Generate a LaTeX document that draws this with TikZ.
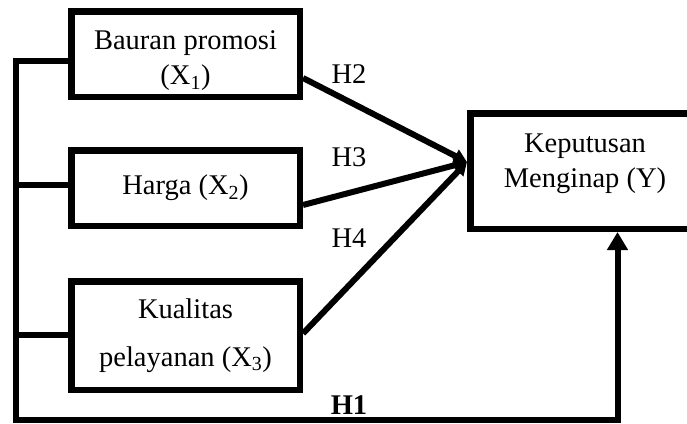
\documentclass[tikz,border=0pt]{standalone}
\usepackage{fontspec}
\setmainfont{Liberation Serif}
\usetikzlibrary{arrows.meta,positioning}

\begin{document}
\begin{tikzpicture}[x=1pt,y=-1pt]
	\tikzset{>={Triangle[length=13pt,width=14pt]},
		var/.style={draw,line width=6.5pt,align=center,inner sep=0pt,font=\fontsize{28.5}{35}\selectfont},
		link/.style={line width=6pt},
		hyp/.style={font=\fontsize{28.5}{32}\selectfont}}
	\useasboundingbox (0,0) rectangle (687,423);

	\node[var,minimum width=228.5pt,minimum height=85.5pt] (X1) at (185.5,54) {\rule{0pt}{32pt}Bauran promosi\\(X\textsubscript{1})};
	\node[var,minimum width=228.5pt,minimum height=75.5pt] (X2) at (185.5,188) {Harga (X\textsubscript{2})};
	\node[var,minimum width=228.5pt,minimum height=108.5pt,font=\fontsize{28.5}{48}\selectfont] (X3) at (185.5,335.5) {Kualitas\\pelayanan (X\textsubscript{3})};
	\node[var,minimum width=229.5pt,minimum height=115.5pt] (Y) at (585,171) {Keputusan\\Menginap (Y)\\[-15pt]\mbox{}};

	% left bus to the decision box
	\coordinate (top) at (15.5,60.5);
	\coordinate (foot) at (617.5,420);
	\coordinate (t2) at (15.5,185);
	\coordinate (t3) at (15.5,335);
	\draw[link,-{Triangle[length=18pt,width=20pt]}] (top -| X1.west) -- (top) -- (top |- foot) -- (foot) -- (foot |- Y.south);
	\draw[link] (t2) -- (t2 -| X2.west);
	\draw[link] (t3) -- (t3 -| X3.west);

	% partial paths
	\coordinate (in) at ([yshift=9pt]Y.west);
	\draw[link,->] ([yshift=-24pt]X1.east) -- (in);
	\draw[link,->] ([yshift=-17pt]X2.east) -- (in);
	\draw[link,->] ([yshift=2pt]X3.east) -- (in);

	\node[hyp] (H2) at (349,74) {H2};
	\node[hyp] (H3) at (349,157) {H3};
	\node[hyp] (H4) at (349,238) {H4};
	\node[hyp,font=\fontsize{28.5}{32}\selectfont\bfseries] (H1) at (349,405) {H1};
\end{tikzpicture}
\end{document}
